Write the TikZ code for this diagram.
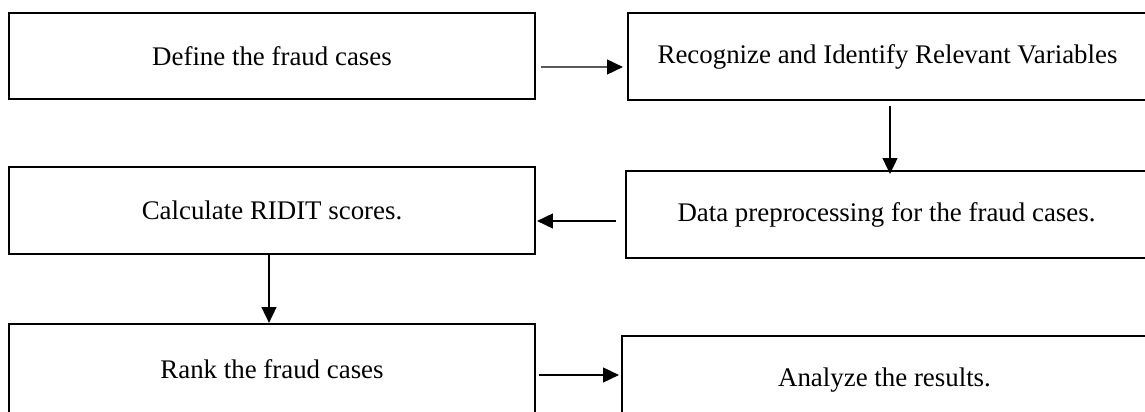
\documentclass[tikz,border=0pt]{standalone}
\usepackage{fontspec}
\setmainfont{Liberation Serif}
\usetikzlibrary{calc, arrows.meta}

\begin{document}
\begin{tikzpicture}[x=0.02cm, y=-0.02cm, >={Triangle[length=9pt,width=8.5pt]},
  stepbox/.style={draw, line width=1.3pt, rectangle, minimum height=1.74cm,
    inner sep=0pt, font=\fontsize{15.3}{18}\selectfont},
  flow/.style={->, line width=0.8pt}]
  \useasboundingbox (0,0) rectangle (1145,412);
  \clip (0,0) rectangle (1145,412);
  \node (define) at (272,56) [stepbox, minimum width=10.52cm, minimum height=1.72cm] {Define the fraud cases};
  \node (recog) at (887.5,56.5) [stepbox, minimum width=10.38cm] {Recognize and Identify Relevant Variables};
  \node (prep) at (886.5,214.5) [stepbox, minimum width=10.42cm] {Data preprocessing for the fraud cases.};
  \node (ridit) at (272,210.5) [stepbox, minimum width=10.52cm] {Calculate RIDIT scores.};
  \node (rank) at (272,369) [stepbox, minimum width=10.52cm, minimum height=1.8cm] {Rank the fraud cases};
  \node (analyze) at (884.5,380) [stepbox, minimum width=10.5cm, minimum height=1.76cm] {Analyze the results.};
  \draw [flow] ($(define.east)+(5,11)$) -- ($(recog.west)+(-4,10.5)$);
  \draw [flow] ($(recog.south)+(2.5,5)$) -- ($(prep.north)+(3.5,4)$);
  \draw [flow] ($(prep.west)+(-9,6.5)$) -- ($(ridit.east)+(1,10.5)$);
  \draw [flow] ($(ridit.south)+(-3,0)$) -- ($(rank.north)+(-3,0)$);
  \draw [flow] ($(rank.east)+(3,6)$) -- ($(analyze.west)+(-2,-5)$);
\end{tikzpicture}
\end{document}
